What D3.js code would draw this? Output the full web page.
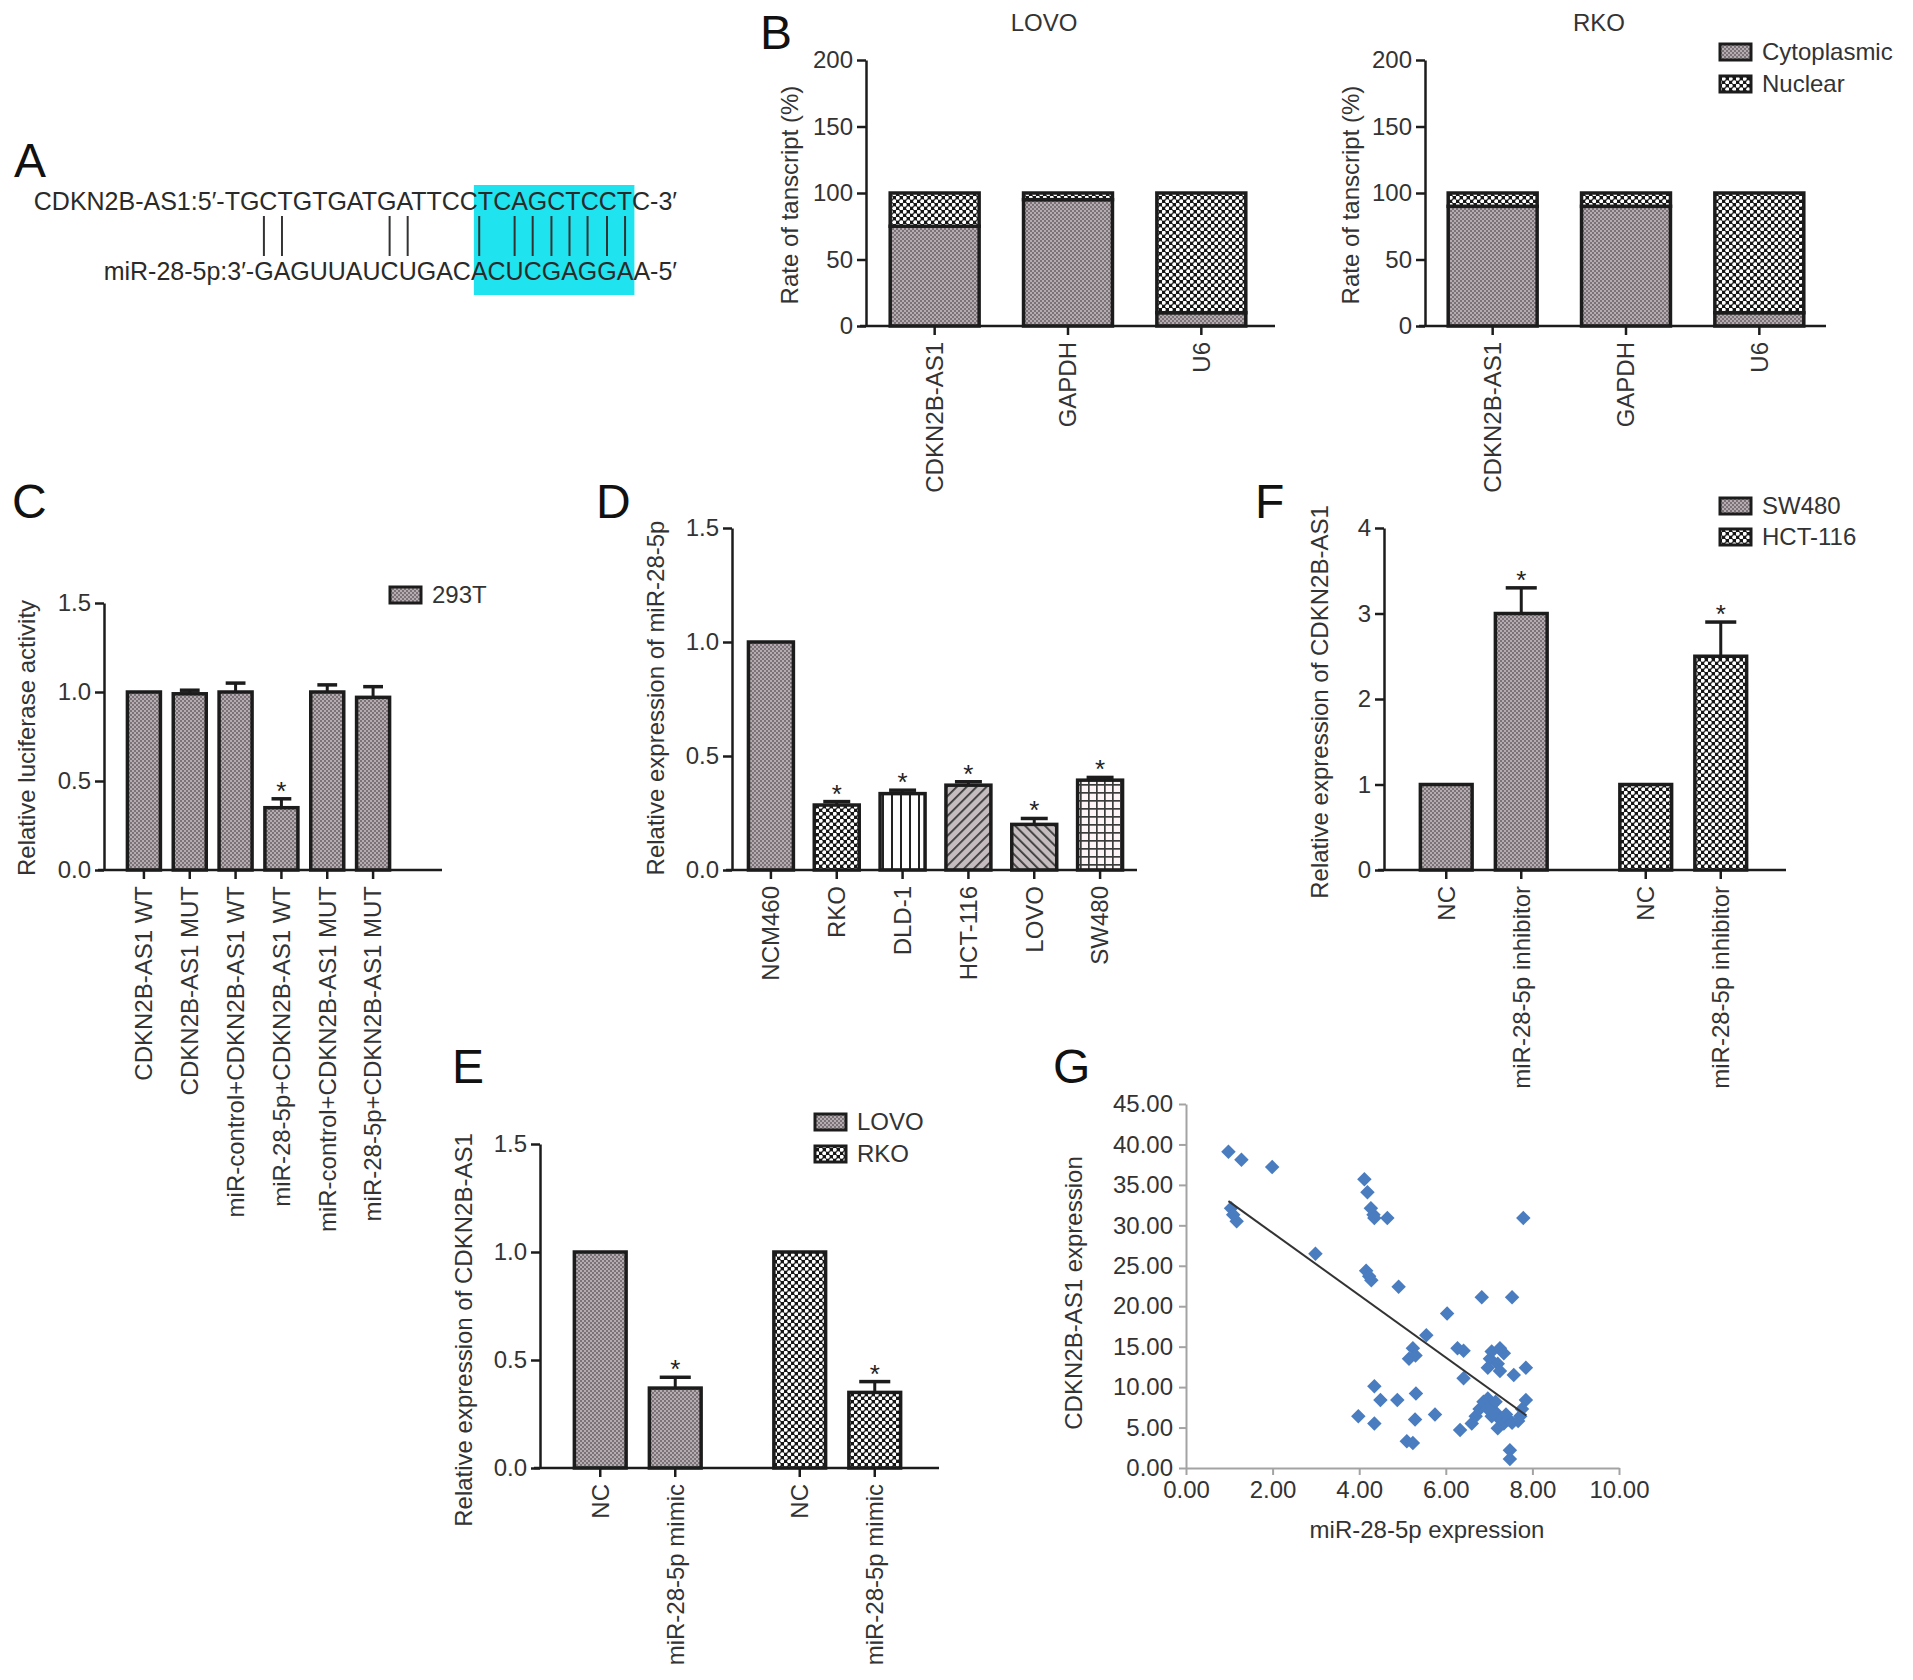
<!DOCTYPE html>
<html>
<head>
<meta charset="utf-8">
<script src="https://cdn.jsdelivr.net/npm/d3@7"></script>
<style>
  body { margin: 0; background: #fff; }
</style>
</head>
<body>
<div id="chart-wrapper"></div>
<script>

//////////////////////////////////////////////////
/////////////////// Constants ////////////////////
//////////////////////////////////////////////////

const width = 1913;
const height = 1680;
const font = "'Liberation Sans', Arial, Helvetica, sans-serif";
const ink = "#1c1c1c";
const textColour = "#333";
const fontSize = 24;

/////////////////// Data ////////////////////

// A: binding site
const seqTop = ["CDKN2B-AS1:5′-TGCTGTGATGATTCC", "TCAGCTCCT", "C-3′"];
const seqBottom = ["miR-28-5p:3′-GAGUUAUCUGAC", "ACUCGAGGA", "A-5′"];
const pairChars = [13, 14, 20, 21, 25, 27, 28, 29, 30, 31, 32, 33]; // char index in bottom line

// B: nuclear / cytoplasmic fraction
const fracCats = ["CDKN2B-AS1", "GAPDH", "U6"];
const lovoCyto = [75, 95, 10];
const lovoNuc = [25, 5, 90];
const rkoCyto = [90, 90, 10];
const rkoNuc = [10, 10, 90];
const fracTicks = [0, 50, 100, 150, 200];
const fracLegend = ["Cytoplasmic", "Nuclear"];

// C: luciferase
const lucCats = ["CDKN2B-AS1 WT", "CDKN2B-AS1 MUT", "miR-control+CDKN2B-AS1 WT",
  "miR-28-5p+CDKN2B-AS1 WT", "miR-control+CDKN2B-AS1 MUT", "miR-28-5p+CDKN2B-AS1 MUT"];
const lucVals = [1.00, 0.99, 1.00, 0.35, 1.00, 0.97];
const lucErr = [0, 0.02, 0.05, 0.05, 0.04, 0.06];
const lucSig = [false, false, false, true, false, false];
const ticks15 = [0, 0.5, 1.0, 1.5];

// D: miR-28-5p in cell lines
const cellLines = ["NCM460", "RKO", "DLD-1", "HCT-116", "LOVO", "SW480"];
const mirVals = [1.00, 0.285, 0.335, 0.372, 0.20, 0.394];
const mirErr = [0, 0.015, 0.015, 0.015, 0.026, 0.012];
const mirSig = [false, true, true, true, true, true];

// E: mimic
const mimicGroups = ["LOVO", "RKO"];
const mimicTreat = ["NC", "miR-28-5p mimic"];
const mimicVals = [[1.00, 0.37], [1.00, 0.35]];
const mimicErr = [[0, 0.05], [0, 0.05]];

// F: inhibitor
const inhGroups = ["SW480", "HCT-116"];
const inhTreat = ["NC", "miR-28-5p inhibitor"];
const inhVals = [[1.0, 3.0], [1.0, 2.5]];
const inhErr = [[0, 0.3], [0, 0.4]];
const inhTicks = [0, 1, 2, 3, 4];

// G: correlation
const mirExpr = [0.98, 1.28, 1.99, 1.04, 1.09, 1.17, 2.99, 4.12, 4.19, 4.27, 4.33, 4.35, 4.65,
  4.16, 4.23, 4.28, 4.91, 6.03, 5.55, 5.24, 5.15, 5.30, 4.35, 4.49, 4.88, 5.31, 3.98, 4.35,
  5.29, 5.75, 5.10, 5.24, 6.27, 6.41, 6.41, 6.83, 7.53, 7.79, 6.33, 6.60, 6.69, 6.78, 6.87,
  6.97, 7.02, 7.06, 6.97, 7.25, 7.34, 7.20, 7.25, 7.57, 7.85, 7.85, 7.76, 7.06, 7.15, 7.25,
  7.20, 7.34, 7.44, 7.53, 7.67, 7.72, 7.06, 7.39, 7.48, 7.48, 6.97, 7.15];
const cdknExpr = [39.1, 38.1, 37.2, 32.1, 31.3, 30.5, 26.5, 35.7, 34.1, 32.1, 31.3, 30.9, 30.9,
  24.4, 23.7, 23.2, 22.4, 19.1, 16.4, 14.8, 13.5, 13.9, 10.1, 8.4, 8.4, 9.2, 6.4, 5.5,
  6.0, 6.6, 3.3, 3.1, 14.8, 14.5, 11.1, 21.1, 21.1, 30.9, 4.7, 5.5, 6.4, 7.3, 8.2,
  8.6, 13.5, 14.4, 12.4, 14.8, 14.2, 12.9, 12.0, 11.5, 12.4, 8.4, 7.3, 7.8, 6.9, 6.0,
  4.9, 5.5, 6.0, 5.6, 5.8, 6.4, 6.4, 6.6, 2.2, 1.1, 7.3, 8.2];
const trendX = [0.98, 7.86];
const trendY = [33.0, 6.5];
const gTicksX = [0, 2, 4, 6, 8, 10];
const gTicksY = [0, 5, 10, 15, 20, 25, 30, 35, 40, 45];


/// SVG ///
const svg = d3.select("#chart-wrapper")
  .append("svg")
    .attr("width", width)
    .attr("height", height)
    .style("font-family", font)

/// Patterns ///
const defs = svg.append("defs")
function makePattern(id, size, draw, transform) {
  const p = defs.append("pattern")
    .attr("id", id)
    .attr("patternUnits", "userSpaceOnUse")
    .attr("width", size)
    .attr("height", size)
  if (transform) p.attr("patternTransform", transform)
  draw(p, size)
}
// fine grey dither (cytoplasmic)
makePattern("p-grey", 4, p => {
  p.append("rect").attr("width", 4).attr("height", 4).attr("fill", "#b4acb0")
  p.append("rect").attr("width", 2).attr("height", 2).attr("fill", "#7a7276")
  p.append("rect").attr("x", 2).attr("y", 2).attr("width", 2).attr("height", 2).attr("fill", "#7a7276")
})
// white dots on black (nuclear)
makePattern("p-dots", 7, p => {
  p.append("rect").attr("width", 7).attr("height", 7).attr("fill", "#161616")
  p.append("circle").attr("cx", 1.75).attr("cy", 1.75).attr("r", 2.0).attr("fill", "#fff")
  p.append("circle").attr("cx", 5.25).attr("cy", 5.25).attr("r", 2.0).attr("fill", "#fff")
})
makePattern("p-vert", 9, p => {
  p.append("rect").attr("width", 9).attr("height", 9).attr("fill", "#fff")
  p.append("rect").attr("width", 2).attr("height", 9).attr("fill", "#222")
})
makePattern("p-diag1", 7, p => {
  p.append("rect").attr("width", 7).attr("height", 7).attr("fill", "#c4bcbf")
  p.append("rect").attr("width", 1.8).attr("height", 7).attr("fill", "#3a3a3a")
}, "rotate(45)")
makePattern("p-diag2", 7, p => {
  p.append("rect").attr("width", 7).attr("height", 7).attr("fill", "#c4bcbf")
  p.append("rect").attr("width", 1.8).attr("height", 7).attr("fill", "#3a3a3a")
}, "rotate(-45)")
makePattern("p-grid", 8, p => {
  p.append("rect").attr("width", 8).attr("height", 8).attr("fill", "#fdf4f7")
  p.append("rect").attr("width", 8).attr("height", 1.7).attr("fill", "#3c3c3c")
  p.append("rect").attr("width", 1.7).attr("height", 8).attr("fill", "#3c3c3c")
})


//////////////////////////////////////////////////
/////////////////// Helpers //////////////////////
//////////////////////////////////////////////////

function panelLetter(letter, x, y) {
  svg.append("text").attr("x", x).attr("y", y)
    .attr("font-size", 48).attr("fill", "#111").text(letter)
}

function yLabel(txt, x, y) {
  svg.append("text")
    .attr("transform", `translate(${x},${y}) rotate(-90)`)
    .attr("text-anchor", "middle").attr("dy", "0.35em")
    .attr("font-size", fontSize).attr("fill", textColour)
    .text(txt)
}

function yAxis(scale, x, ticks, fmt) {
  const g = svg.append("g")
    .attr("transform", `translate(${x},0)`)
    .call(d3.axisLeft(scale).tickValues(ticks).tickFormat(fmt).tickSize(9).tickPadding(4).tickSizeOuter(0))
    .attr("font-family", font).attr("font-size", fontSize)
  g.select(".domain").attr("stroke", ink).attr("stroke-width", 2.5)
  g.selectAll(".tick line").attr("stroke", ink).attr("stroke-width", 2.5)
  g.selectAll(".tick text").attr("fill", textColour)
  return g
}

function xBaseline(x1, x2, y) {
  svg.append("line").attr("x1", x1).attr("x2", x2).attr("y1", y).attr("y2", y)
    .attr("stroke", ink).attr("stroke-width", 2.5)
}

function xTicks(bars, y0) {
  svg.selectAll(null).data(bars).join("line")
    .attr("x1", d => d.x).attr("x2", d => d.x)
    .attr("y1", y0).attr("y2", y0 + 9)
    .attr("stroke", ink).attr("stroke-width", 2.5)
  svg.selectAll(null).data(bars).join("text")
    .attr("transform", d => `translate(${d.x},${y0 + 16}) rotate(-90)`)
    .attr("text-anchor", "end").attr("dy", "0.35em")
    .attr("font-size", fontSize).attr("fill", textColour)
    .text(d => d.label)
}

// bars: {x, w, v, e, sig, fill}
function drawBars(bars, y) {
  svg.selectAll(null).data(bars).join("rect")
    .attr("x", d => d.x - d.w / 2)
    .attr("y", d => y(d.v))
    .attr("width", d => d.w)
    .attr("height", d => y(0) - y(d.v))
    .attr("fill", d => `url(#${d.fill})`)
    .attr("stroke", ink).attr("stroke-width", 3.5)
  const errs = bars.filter(d => d.e > 0)
  svg.selectAll(null).data(errs).join("line")
    .attr("x1", d => d.x).attr("x2", d => d.x)
    .attr("y1", d => y(d.v)).attr("y2", d => y(d.v + d.e))
    .attr("stroke", ink).attr("stroke-width", 3)
  svg.selectAll(null).data(errs).join("line")
    .attr("x1", d => d.x - d.w * 0.3).attr("x2", d => d.x + d.w * 0.3)
    .attr("y1", d => y(d.v + d.e)).attr("y2", d => y(d.v + d.e))
    .attr("stroke", ink).attr("stroke-width", 3.5)
  // star sits about 13px above the cap
  svg.selectAll(null).data(bars.filter(d => d.sig)).join("text")
    .attr("x", d => d.x).attr("y", d => y(d.v + d.e) + 1)
    .attr("text-anchor", "middle").attr("font-size", 26).attr("fill", "#222")
    .text("*")
}

function legend(items, x, y, dy) {
  items.forEach((it, i) => {
    svg.append("rect").attr("x", x).attr("y", y + i * dy - 8).attr("width", 31).attr("height", 16)
      .attr("fill", `url(#${it.fill})`).attr("stroke", ink).attr("stroke-width", 3)
    svg.append("text").attr("x", x + 42).attr("y", y + i * dy).attr("dy", "0.35em")
      .attr("font-size", fontSize).attr("fill", textColour).text(it.label)
  })
}


//////////////////////////////////////////////////
/////////////////// Panel A //////////////////////
//////////////////////////////////////////////////

panelLetter("A", 14, 177)
const aRight = 677
const topText = svg.append("text").attr("x", aRight).attr("y", 210)
  .attr("text-anchor", "end").attr("font-size", 25).attr("fill", "#2a2a2a")
seqTop.forEach(s => topText.append("tspan").text(s))
const botText = svg.append("text").attr("x", aRight).attr("y", 280)
  .attr("text-anchor", "end").attr("font-size", 25).attr("fill", "#2a2a2a")
seqBottom.forEach(s => botText.append("tspan").text(s))

// cyan box round the seed match, measured from the text itself
const tNode = topText.node(), bNode = botText.node()
const tStart = seqTop[0].length, bStart = seqBottom[0].length
const boxX1 = Math.min(tNode.getStartPositionOfChar(tStart).x, bNode.getStartPositionOfChar(bStart).x) + 3
const boxX2 = Math.max(tNode.getEndPositionOfChar(tStart + seqTop[1].length - 1).x,
  bNode.getEndPositionOfChar(bStart + seqBottom[1].length - 1).x) + 1
svg.insert("rect", "text")
  .attr("x", boxX1).attr("y", 185).attr("width", boxX2 - boxX1).attr("height", 110)
  .attr("fill", "#1fe3ee")
pairChars.forEach(ci => {
  const ext = bNode.getExtentOfChar(ci)
  const cx = ext.x + ext.width / 2
  svg.append("line").attr("x1", cx).attr("x2", cx).attr("y1", 216).attr("y2", 256)
    .attr("stroke", "#333").attr("stroke-width", 2)
})


//////////////////////////////////////////////////
/////////////////// Panel B //////////////////////
//////////////////////////////////////////////////

panelLetter("B", 760, 49)
function fracPanel(title, titleX, cyto, nuc, axisX, r0, r1, lineEnd, labelX) {
  const y = d3.scaleLinear().domain([0, 200]).range([326, 60])
  const x = d3.scaleBand().domain(fracCats).range([r0, r1]).paddingInner(0.333).paddingOuter(0.1665)
  svg.append("text").attr("x", titleX).attr("y", 31).attr("text-anchor", "middle")
    .attr("font-size", fontSize).attr("fill", textColour).text(title)
  const bars = fracCats.map((c, i) => ({ label: c, x: x(c) + x.bandwidth() / 2, w: x.bandwidth() }))
  // cytoplasmic part
  svg.selectAll(null).data(bars).join("rect")
    .attr("x", (d, i) => d.x - d.w / 2).attr("y", (d, i) => y(cyto[i]))
    .attr("width", d => d.w).attr("height", (d, i) => y(0) - y(cyto[i]))
    .attr("fill", "url(#p-grey)").attr("stroke", ink).attr("stroke-width", 3.5)
  // nuclear part stacked above
  svg.selectAll(null).data(bars).join("rect")
    .attr("x", (d, i) => d.x - d.w / 2).attr("y", (d, i) => y(cyto[i] + nuc[i]))
    .attr("width", d => d.w).attr("height", (d, i) => y(cyto[i]) - y(cyto[i] + nuc[i]))
    .attr("fill", "url(#p-dots)").attr("stroke", ink).attr("stroke-width", 3.5)
  xBaseline(axisX - 6, lineEnd, y(0))
  yAxis(y, axisX, fracTicks, d3.format("d"))
  xTicks(bars, y(0))
  yLabel("Rate of tanscript (%)", labelX, 195)
}
fracPanel("LOVO", 1044, lovoCyto, lovoNuc, 866, 868, 1268, 1275, 790)
fracPanel("RKO", 1599, rkoCyto, rkoNuc, 1425, 1426, 1826, 1826, 1351)
legend(fracLegend.map((l, i) => ({ label: l, fill: i ? "p-dots" : "p-grey" })), 1720, 52, 32)


//////////////////////////////////////////////////
/////////////////// Panel C //////////////////////
//////////////////////////////////////////////////

panelLetter("C", 12, 518)
{
  const y = d3.scaleLinear().domain([0, 1.5]).range([870, 603])
  const x = d3.scaleBand().domain(lucCats).range([121, 396]).paddingInner(0.28).paddingOuter(0.14)
  const bars = lucCats.map((c, i) => ({
    label: c, x: x(c) + x.bandwidth() / 2, w: x.bandwidth(),
    v: lucVals[i], e: lucErr[i], sig: lucSig[i], fill: "p-grey"
  }))
  drawBars(bars, y)
  xBaseline(98, 442, y(0))
  yAxis(y, 104, ticks15, d3.format(".1f"))
  xTicks(bars, y(0))
  yLabel("Relative luciferase activity", 27, 738)
  legend([{ label: "293T", fill: "p-grey" }], 390, 595, 30)
}


//////////////////////////////////////////////////
/////////////////// Panel D //////////////////////
//////////////////////////////////////////////////

panelLetter("D", 596, 518)
{
  const fills = ["p-grey", "p-dots", "p-vert", "p-diag1", "p-diag2", "p-grid"]
  const y = d3.scaleLinear().domain([0, 1.5]).range([870, 528])
  const x = d3.scaleBand().domain(cellLines).range([738, 1133]).paddingInner(0.317).paddingOuter(0.1585)
  const bars = cellLines.map((c, i) => ({
    label: c, x: x(c) + x.bandwidth() / 2, w: x.bandwidth(),
    v: mirVals[i], e: mirErr[i], sig: mirSig[i], fill: fills[i]
  }))
  drawBars(bars, y)
  xBaseline(726, 1137, y(0))
  yAxis(y, 732, ticks15, d3.format(".1f"))
  xTicks(bars, y(0))
  yLabel("Relative expression of miR-28-5p", 656, 698)
}


//////////////////////////////////////////////////
/////////////////// Panels E, F //////////////////
//////////////////////////////////////////////////

function groupedPanel(o) {
  const y = d3.scaleLinear().domain(o.yDomain).range(o.yRange)
  const outer = d3.scaleBand().domain(o.groups).range(o.xRange).paddingInner(0.248).paddingOuter(0.124)
  const inner = d3.scaleBand().domain(o.treat).range([0, outer.bandwidth()]).paddingInner(0.31).paddingOuter(0.155)
  const fills = ["p-grey", "p-dots"]
  const bars = []
  o.groups.forEach((g, gi) => o.treat.forEach((t, ti) => bars.push({
    label: t, x: outer(g) + inner(t) + inner.bandwidth() / 2, w: inner.bandwidth(),
    v: o.vals[gi][ti], e: o.errs[gi][ti], sig: o.errs[gi][ti] > 0, fill: fills[gi]
  })))
  drawBars(bars, y)
  xBaseline(o.axisX - 6, o.lineEnd, y(0))
  yAxis(y, o.axisX, o.ticks, o.fmt)
  xTicks(bars, y(0))
  yLabel("Relative expression of CDKN2B-AS1", o.labelX, o.labelY)
  legend(o.groups.map((g, i) => ({ label: g, fill: fills[i] })), o.legX, o.legY, o.legDy)
}

panelLetter("F", 1255, 518)
groupedPanel({
  groups: inhGroups, treat: inhTreat, vals: inhVals, errs: inhErr,
  yDomain: [0, 4], yRange: [870, 528], xRange: [1384, 1783],
  axisX: 1384, lineEnd: 1786, ticks: inhTicks, fmt: d3.format("d"),
  labelX: 1320, labelY: 702, legX: 1720, legY: 506, legDy: 31
})

panelLetter("E", 452, 1083)
groupedPanel({
  groups: mimicGroups, treat: mimicTreat, vals: mimicVals, errs: mimicErr,
  yDomain: [0, 1.5], yRange: [1468, 1144], xRange: [538, 937],
  axisX: 540, lineEnd: 939, ticks: ticks15, fmt: d3.format(".1f"),
  labelX: 464, labelY: 1330, legX: 815, legY: 1122, legDy: 32
})


//////////////////////////////////////////////////
/////////////////// Panel G //////////////////////
//////////////////////////////////////////////////

panelLetter("G", 1053, 1083)
{
  const axisGrey = "#a3a3a3"
  const x = d3.scaleLinear().domain([0, 10]).range([1186, 1619])
  const y = d3.scaleLinear().domain([0, 45]).range([1468, 1104])

  const gxAxis = svg.append("g").attr("transform", `translate(0,${y(0)})`)
    .call(d3.axisBottom(x).tickValues(gTicksX).tickFormat(d3.format(".2f")).tickSize(7).tickPadding(6).tickSizeOuter(0))
    .attr("font-family", font).attr("font-size", fontSize)
  const gyAxis = svg.append("g").attr("transform", `translate(${x(0)},0)`)
    .call(d3.axisLeft(y).tickValues(gTicksY).tickFormat(d3.format(".2f")).tickSize(7).tickPadding(6).tickSizeOuter(0))
    .attr("font-family", font).attr("font-size", fontSize)
  ;[gxAxis, gyAxis].forEach(g => {
    g.select(".domain").attr("stroke", axisGrey).attr("stroke-width", 2)
    g.selectAll(".tick line").attr("stroke", axisGrey).attr("stroke-width", 2)
    g.selectAll(".tick text").attr("fill", textColour)
  })

  const pts = mirExpr.map((v, i) => ({ mx: v, cy: cdknExpr[i] }))
  svg.selectAll(null).data(pts).join("path")
    .attr("d", d3.symbol(d3.symbolSquare, 105))
    .attr("transform", d => `translate(${x(d.mx)},${y(d.cy)}) rotate(45)`)
    .attr("fill", "#4a7cc0")

  svg.append("line")
    .attr("x1", x(trendX[0])).attr("y1", y(trendY[0]))
    .attr("x2", x(trendX[1])).attr("y2", y(trendY[1]))
    .attr("stroke", "#333").attr("stroke-width", 2)

  yLabel("CDKN2B-AS1 expression", 1074, 1293)
  svg.append("text").attr("x", 1427).attr("y", 1538).attr("text-anchor", "middle")
    .attr("font-size", fontSize).attr("fill", textColour).text("miR-28-5p expression")
}

</script>
</body>
</html>
